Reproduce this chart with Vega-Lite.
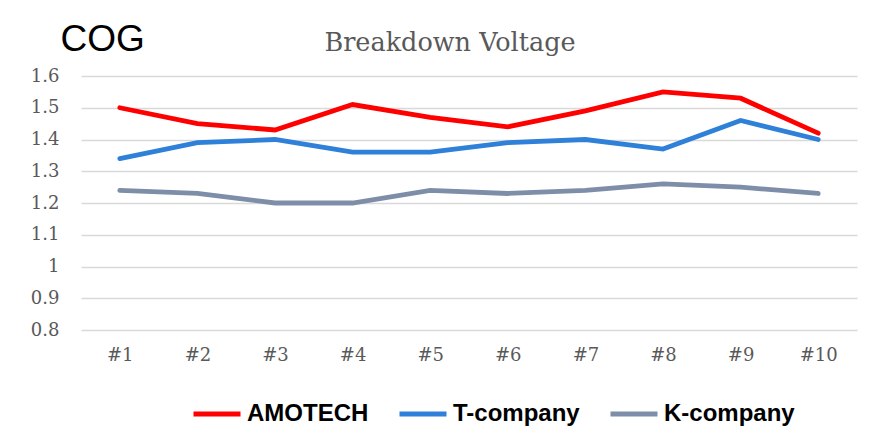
{
  "$schema": "https://vega.github.io/schema/vega-lite/v6.json",
  "autosize": {"type": "none"},
  "width": 776,
  "height": 254,
  "padding": {"left": 81, "top": 76, "right": 19, "bottom": 112},
  "background": "white",
  "title": {
    "text": "Breakdown Voltage",
    "font": "DejaVu Serif",
    "fontSize": 25.5,
    "fontWeight": "normal",
    "color": "#595959",
    "anchor": "middle",
    "baseline": "alphabetic",
    "dx": -19,
    "offset": 0,
    "dy": 56
  },
  "data": {
    "values": [
      {"sample": "#1", "company": "AMOTECH", "value": 1.50},
      {"sample": "#2", "company": "AMOTECH", "value": 1.45},
      {"sample": "#3", "company": "AMOTECH", "value": 1.43},
      {"sample": "#4", "company": "AMOTECH", "value": 1.51},
      {"sample": "#5", "company": "AMOTECH", "value": 1.47},
      {"sample": "#6", "company": "AMOTECH", "value": 1.44},
      {"sample": "#7", "company": "AMOTECH", "value": 1.49},
      {"sample": "#8", "company": "AMOTECH", "value": 1.55},
      {"sample": "#9", "company": "AMOTECH", "value": 1.53},
      {"sample": "#10", "company": "AMOTECH", "value": 1.42},
      {"sample": "#1", "company": "T-company", "value": 1.34},
      {"sample": "#2", "company": "T-company", "value": 1.39},
      {"sample": "#3", "company": "T-company", "value": 1.40},
      {"sample": "#4", "company": "T-company", "value": 1.36},
      {"sample": "#5", "company": "T-company", "value": 1.36},
      {"sample": "#6", "company": "T-company", "value": 1.39},
      {"sample": "#7", "company": "T-company", "value": 1.40},
      {"sample": "#8", "company": "T-company", "value": 1.37},
      {"sample": "#9", "company": "T-company", "value": 1.46},
      {"sample": "#10", "company": "T-company", "value": 1.40},
      {"sample": "#1", "company": "K-company", "value": 1.24},
      {"sample": "#2", "company": "K-company", "value": 1.23},
      {"sample": "#3", "company": "K-company", "value": 1.20},
      {"sample": "#4", "company": "K-company", "value": 1.20},
      {"sample": "#5", "company": "K-company", "value": 1.24},
      {"sample": "#6", "company": "K-company", "value": 1.23},
      {"sample": "#7", "company": "K-company", "value": 1.24},
      {"sample": "#8", "company": "K-company", "value": 1.26},
      {"sample": "#9", "company": "K-company", "value": 1.25},
      {"sample": "#10", "company": "K-company", "value": 1.23}
    ]
  },
  "mark": {"type": "line", "strokeWidth": 4.8, "strokeCap": "round", "strokeJoin": "miter"},
  "encoding": {
    "x": {
      "field": "sample",
      "type": "ordinal",
      "sort": ["#1", "#2", "#3", "#4", "#5", "#6", "#7", "#8", "#9", "#10"],
      "scale": {"type": "point", "padding": 0.5},
      "axis": {
        "title": null,
        "labelAngle": 0,
        "labelFont": "DejaVu Serif",
        "labelFontSize": 18,
        "labelColor": "#595959",
        "labelPadding": 16,
        "ticks": false,
        "domain": false,
        "grid": false
      }
    },
    "y": {
      "field": "value",
      "type": "quantitative",
      "scale": {"domain": [0.8, 1.6], "nice": false, "zero": false},
      "axis": {
        "values": [0.8, 0.9, 1, 1.1, 1.2, 1.3, 1.4, 1.5, 1.6],
        "format": ".2~f",
        "title": "COG",
        "titleAngle": 0,
        "titleX": -21,
        "titleY": -26,
        "titleAlign": "left",
        "titleBaseline": "alphabetic",
        "titleFont": "Liberation Sans",
        "titleFontSize": 37,
        "titleFontWeight": "normal",
        "titleColor": "#000000",
        "labelFont": "DejaVu Serif",
        "labelFontSize": 18,
        "labelColor": "#595959",
        "labelPadding": 22,
        "ticks": false,
        "domain": false,
        "grid": true,
        "gridColor": "#d9d9d9",
        "gridWidth": 1.5
      }
    },
    "color": {
      "field": "company",
      "type": "nominal",
      "scale": {
        "domain": ["AMOTECH", "T-company", "K-company"],
        "range": ["#ff0000", "#2f80d8", "#7e8ea8"]
      },
      "legend": {
        "title": null,
        "orient": "none",
        "direction": "horizontal",
        "legendX": 110,
        "legendY": 312,
        "symbolType": "stroke",
        "symbolSize": 2209,
        "symbolStrokeWidth": 4.8,
        "labelFont": "Liberation Sans",
        "labelFontSize": 24,
        "labelFontWeight": "bold",
        "labelColor": "#000000",
        "labelOffset": 4,
        "columnPadding": 20,
        "padding": 0
      }
    }
  },
  "config": {"view": {"stroke": null}}
}
